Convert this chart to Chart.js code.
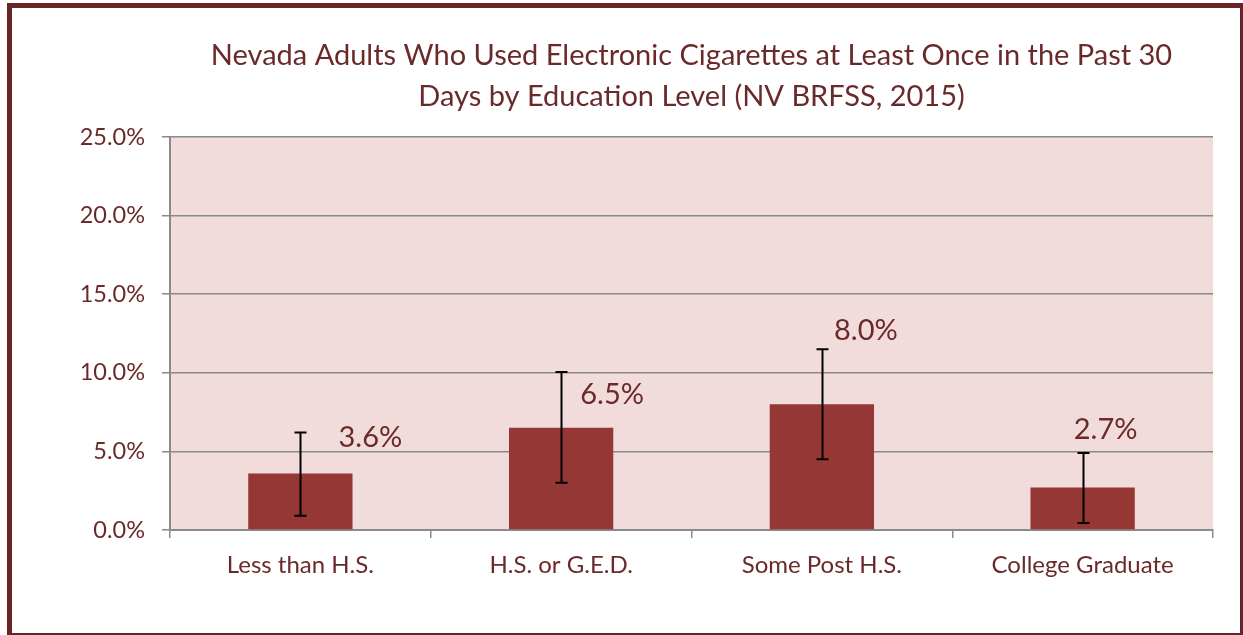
<!DOCTYPE html>
<html>
<head>
<meta charset="utf-8">
<script src="https://cdn.jsdelivr.net/npm/chart.js@4.4.1/dist/chart.umd.min.js"></script>
<style>
  html, body { margin: 0; padding: 0; background: #ffffff; overflow: hidden; width: 1243px; height: 635px; }
  #frame { position: absolute; left: 7px; top: 3px; width: 1238px; height: 635px; box-sizing: border-box; border: 5px solid #682527; background: #ffffff; }
  #wrap { position: absolute; left: 0; top: 0; width: 1243px; height: 635px; }
</style>
</head>
<body>
<div id="frame"></div>
<div id="wrap"><canvas id="c" width="1243" height="635"></canvas></div>
<script>
// ---- data ----
const titleLines = ['Nevada Adults Who Used Electronic Cigarettes at Least Once in the Past 30', 'Days by Education Level (NV BRFSS, 2015)'];
const categories = ['Less than H.S.', 'H.S. or G.E.D.', 'Some Post H.S.', 'College Graduate'];
const values = [3.6, 6.5, 8.0, 2.7];
const ciLower = [0.9, 3.0, 4.5, 0.45];
const ciUpper = [6.2, 10.05, 11.5, 4.9];
const yTickValues = [0, 5, 10, 15, 20, 25];

// ---- style ----
const TEXT = '#6b2a2a';
const GRID = '#8a8a8a';
const FONT = 'Lato';
const labelOffsets = [[70, 5], [51, 23], [44, -19], [23, -23]];

const plotBg = {
  id: 'plotBg',
  beforeDraw(chart) {
    const a = chart.chartArea, ctx = chart.ctx;
    ctx.save();
    ctx.fillStyle = '#f2dcdb';
    ctx.fillRect(a.left, a.top, a.right - a.left, a.bottom - a.top);
    ctx.restore();
  }
};

const errorBars = {
  id: 'errorBars',
  afterDatasetsDraw(chart) {
    const ctx = chart.ctx, y = chart.scales.y, meta = chart.getDatasetMeta(0);
    ctx.save();
    ctx.strokeStyle = '#000000';
    ctx.lineWidth = 2;
    meta.data.forEach((bar, i) => {
      const x = Math.round(bar.x) + 0.5;
      const yt = y.getPixelForValue(ciUpper[i]);
      const yb = y.getPixelForValue(ciLower[i]);
      ctx.beginPath();
      ctx.moveTo(x, yt); ctx.lineTo(x, yb);
      ctx.moveTo(x - 6, yt); ctx.lineTo(x + 6, yt);
      ctx.moveTo(x - 6, yb); ctx.lineTo(x + 6, yb);
      ctx.stroke();
    });
    ctx.restore();
  }
};

const valueLabels = {
  id: 'valueLabels',
  afterDraw(chart) {
    const ctx = chart.ctx, y = chart.scales.y, meta = chart.getDatasetMeta(0);
    ctx.save();
    ctx.fillStyle = TEXT;
    ctx.font = '29px ' + FONT;
    ctx.textAlign = 'center';
    ctx.textBaseline = 'middle';
    meta.data.forEach((bar, i) => {
      const o = labelOffsets[i];
      ctx.fillText(values[i].toFixed(1) + '%', bar.x + o[0], y.getPixelForValue(ciUpper[i]) + o[1]);
    });
    ctx.restore();
  }
};

new Chart(document.getElementById('c'), {
  type: 'bar',
  data: {
    labels: categories,
    datasets: [{
      data: values,
      backgroundColor: '#953735',
      borderWidth: 0,
      barPercentage: 0.4,
      categoryPercentage: 1.0
    }]
  },
  options: {
    responsive: false,
    animation: false,
    devicePixelRatio: 1,
    layout: { padding: { left: 0, right: 30, top: 0, bottom: 0 } },
    plugins: {
      legend: { display: false },
      tooltip: { enabled: false },
      title: {
        display: true,
        text: titleLines,
        fullSize: false,
        color: TEXT,
        font: { family: FONT, size: 29, weight: 'normal', lineHeight: '41px' },
        padding: { top: 35, bottom: 20 }
      }
    },
    scales: {
      x: {
        grid: { display: true, offset: true, drawOnChartArea: false, drawTicks: true, tickLength: 8, color: GRID, lineWidth: 1.5 },
        border: { display: true, color: GRID, width: 2 },
        ticks: { color: TEXT, font: { family: FONT, size: 24 }, padding: 13, maxRotation: 0 },
        afterFit(s) { s.height = 105; }
      },
      y: {
        min: 0, max: 25,
        afterBuildTicks(s) { s.ticks = yTickValues.map(v => ({ value: v })); },
        grid: { color: GRID, lineWidth: 1.5, drawTicks: true, tickLength: 8 },
        border: { display: true, color: GRID, width: 2 },
        ticks: { color: TEXT, font: { family: FONT, size: 23.5 }, padding: 17, callback: v => v.toFixed(1) + '%' },
        afterFit(s) { s.width = 170; }
      }
    }
  },
  plugins: [plotBg, errorBars, valueLabels]
});
</script>
</body>
</html>
